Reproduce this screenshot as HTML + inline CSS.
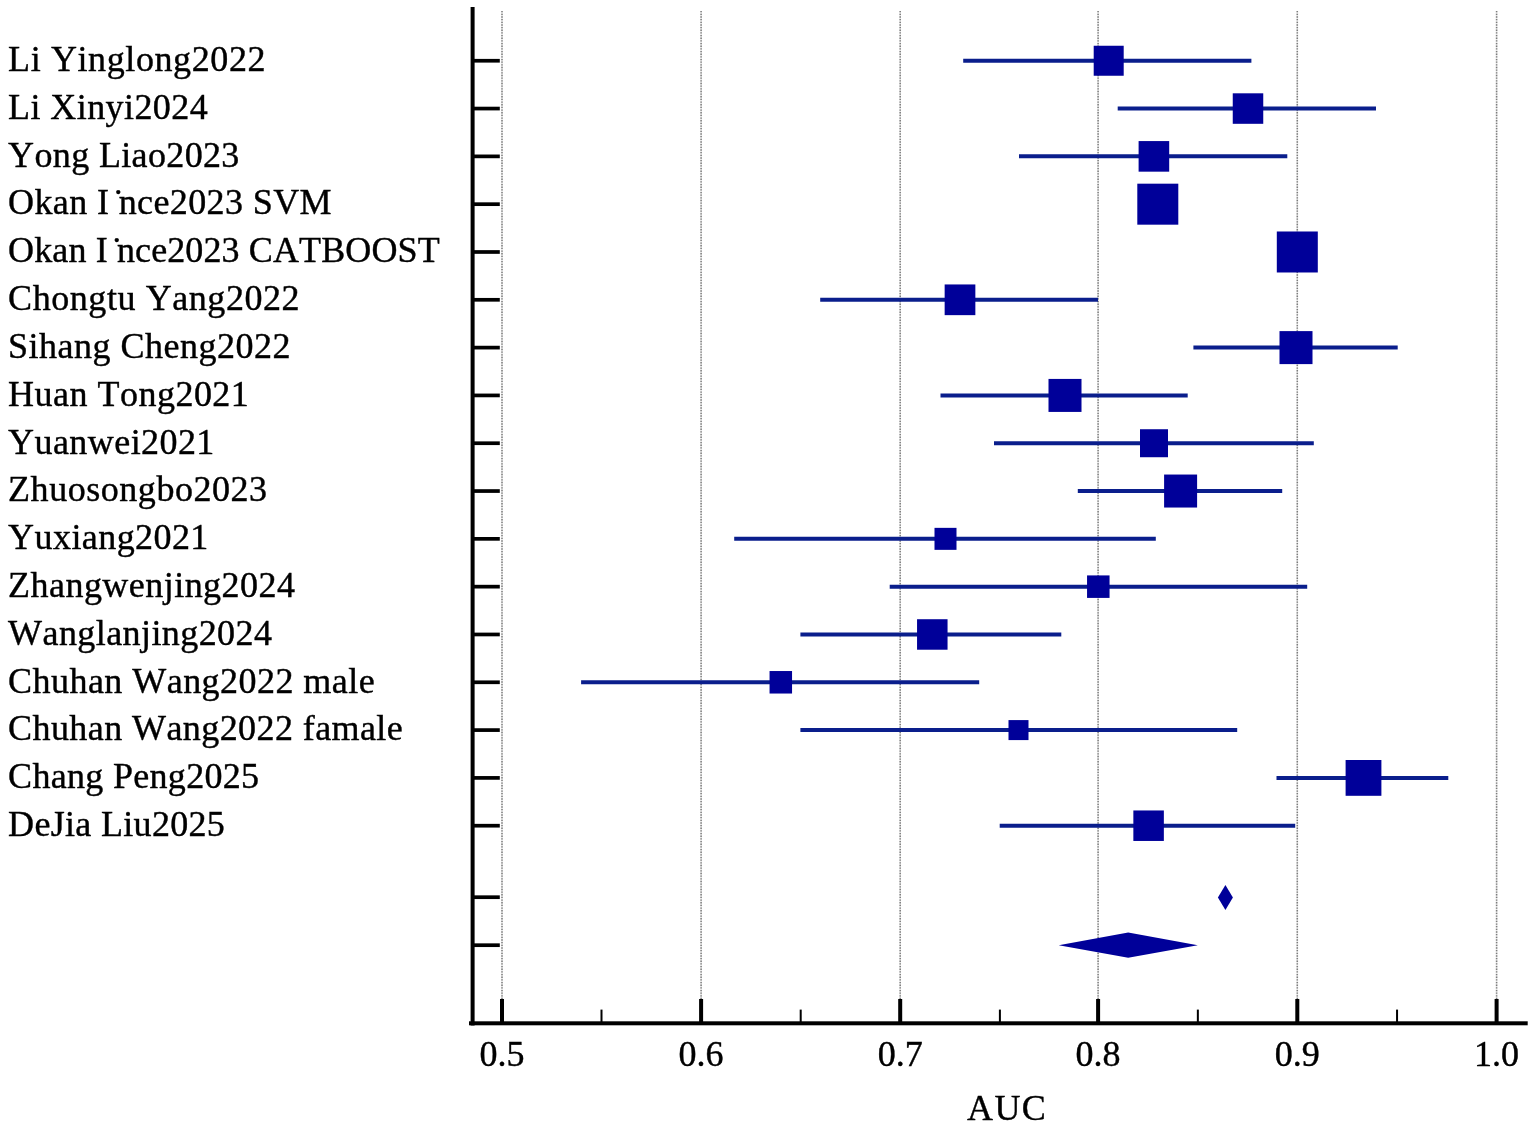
<!DOCTYPE html>
<html><head><meta charset="utf-8"><title>Forest plot AUC</title>
<style>
html,body{margin:0;padding:0;background:#fff;}
body{width:1535px;height:1127px;overflow:hidden;}
svg{display:block;}
text{font-family:"Liberation Serif","Times New Roman",serif;fill:#000;stroke:#000;stroke-width:0.4px;font-kerning:none;font-feature-settings:"kern" 0;}
</style></head><body>
<svg width="1535" height="1127" viewBox="0 0 1535 1127">
<rect x="0" y="0" width="1535" height="1127" fill="#fff"/>

<g stroke="#e6e6e6" stroke-width="1.6">
<line x1="502.00" y1="11" x2="502.00" y2="999"/>
<line x1="701.10" y1="11" x2="701.10" y2="999"/>
<line x1="900.20" y1="11" x2="900.20" y2="999"/>
<line x1="1098.10" y1="11" x2="1098.10" y2="999"/>
<line x1="1297.30" y1="11" x2="1297.30" y2="999"/>
<line x1="1496.60" y1="11" x2="1496.60" y2="999"/>
</g>
<g stroke="#7c7c7c" stroke-width="1.5" stroke-dasharray="1.33 1.33">
<line x1="502.00" y1="11" x2="502.00" y2="999"/>
<line x1="701.10" y1="11" x2="701.10" y2="999"/>
<line x1="900.20" y1="11" x2="900.20" y2="999"/>
<line x1="1098.10" y1="11" x2="1098.10" y2="999"/>
<line x1="1297.30" y1="11" x2="1297.30" y2="999"/>
<line x1="1496.60" y1="11" x2="1496.60" y2="999"/>
</g>
<g stroke="#0a1e8c" stroke-width="4.00">
<line x1="963.2" y1="60.75" x2="1251.4" y2="60.75"/>
<line x1="1117.7" y1="108.56" x2="1376.0" y2="108.56"/>
<line x1="1019.0" y1="156.37" x2="1287.3" y2="156.37"/>
<line x1="820.2" y1="299.80" x2="1098.0" y2="299.80"/>
<line x1="1193.4" y1="347.61" x2="1397.7" y2="347.61"/>
<line x1="940.5" y1="395.42" x2="1187.7" y2="395.42"/>
<line x1="994.0" y1="443.23" x2="1313.8" y2="443.23"/>
<line x1="1077.8" y1="491.04" x2="1282.2" y2="491.04"/>
<line x1="734.2" y1="538.85" x2="1155.8" y2="538.85"/>
<line x1="889.7" y1="586.66" x2="1307.2" y2="586.66"/>
<line x1="800.4" y1="634.47" x2="1061.3" y2="634.47"/>
<line x1="581.1" y1="682.28" x2="979.2" y2="682.28"/>
<line x1="800.4" y1="730.09" x2="1237.2" y2="730.09"/>
<line x1="1276.5" y1="777.90" x2="1448.3" y2="777.90"/>
<line x1="999.7" y1="825.71" x2="1295.2" y2="825.71"/>
</g>
<g fill="#000099">
<rect x="1093.70" y="45.75" width="30.00" height="30.00"/>
<rect x="1232.75" y="93.31" width="30.50" height="30.50"/>
<rect x="1138.60" y="141.07" width="30.60" height="30.60"/>
<rect x="1137.30" y="183.68" width="41.00" height="41.00"/>
<rect x="1276.80" y="231.49" width="41.00" height="41.00"/>
<rect x="944.65" y="284.45" width="30.70" height="30.70"/>
<rect x="1279.50" y="331.11" width="33.00" height="33.00"/>
<rect x="1048.50" y="378.92" width="33.00" height="33.00"/>
<rect x="1140.00" y="429.23" width="28.00" height="28.00"/>
<rect x="1164.10" y="474.54" width="33.00" height="33.00"/>
<rect x="934.50" y="527.85" width="22.00" height="22.00"/>
<rect x="1087.05" y="575.41" width="22.50" height="22.50"/>
<rect x="917.05" y="619.22" width="30.50" height="30.50"/>
<rect x="769.55" y="671.03" width="22.50" height="22.50"/>
<rect x="1008.50" y="720.09" width="20.00" height="20.00"/>
<rect x="1345.60" y="760.00" width="35.80" height="35.80"/>
<rect x="1133.35" y="810.46" width="30.50" height="30.50"/>
<polygon points="1217.9,897.5 1225.4,885 1232.9,897.5 1225.4,910"/>
<polygon points="1058.7,945.2 1128.2,932.6 1197.8,945.2 1128.2,957.8"/>
</g>
<g fill="#000">
<rect x="470.6" y="7" width="4" height="1018.5"/>
<rect x="469" y="1021.3" width="1058.7" height="4"/>
<rect x="500.00" y="999" width="4" height="23"/>
<rect x="699.10" y="999" width="4" height="23"/>
<rect x="898.20" y="999" width="4" height="23"/>
<rect x="1096.10" y="999" width="4" height="23"/>
<rect x="1295.30" y="999" width="4" height="23"/>
<rect x="1494.60" y="999" width="4" height="23"/>
<rect x="600.50" y="1009.6" width="2" height="12.4"/>
<rect x="799.70" y="1009.6" width="2" height="12.4"/>
<rect x="998.90" y="1009.6" width="2" height="12.4"/>
<rect x="1196.85" y="1009.6" width="2" height="12.4"/>
<rect x="1396.05" y="1009.6" width="2" height="12.4"/>
<rect x="474" y="58.90" width="25.8" height="3.7"/>
<rect x="474" y="106.71" width="25.8" height="3.7"/>
<rect x="474" y="154.52" width="25.8" height="3.7"/>
<rect x="474" y="202.33" width="25.8" height="3.7"/>
<rect x="474" y="250.14" width="25.8" height="3.7"/>
<rect x="474" y="297.95" width="25.8" height="3.7"/>
<rect x="474" y="345.76" width="25.8" height="3.7"/>
<rect x="474" y="393.57" width="25.8" height="3.7"/>
<rect x="474" y="441.38" width="25.8" height="3.7"/>
<rect x="474" y="489.19" width="25.8" height="3.7"/>
<rect x="474" y="537.00" width="25.8" height="3.7"/>
<rect x="474" y="584.81" width="25.8" height="3.7"/>
<rect x="474" y="632.62" width="25.8" height="3.7"/>
<rect x="474" y="680.43" width="25.8" height="3.7"/>
<rect x="474" y="728.24" width="25.8" height="3.7"/>
<rect x="474" y="776.05" width="25.8" height="3.7"/>
<rect x="474" y="823.86" width="25.8" height="3.7"/>
<rect x="474" y="895.35" width="25.8" height="3.7"/>
<rect x="474" y="943.35" width="25.8" height="3.7"/>
</g>
<g font-size="36">
<text x="8.1" y="71.05" letter-spacing="0.600">Li Yinglong2022</text>
<text x="8.1" y="118.86" letter-spacing="0.418">Li Xinyi2024</text>
<text x="8.1" y="166.67" letter-spacing="0.358">Yong Liao2023</text>
<text x="8.1" y="214.48" letter-spacing="0.382">Okan I &#x307;nce2023 SVM</text>
<text x="8.1" y="262.29" letter-spacing="0.123">Okan I &#x307;nce2023 CATBOOST</text>
<text x="8.1" y="310.10" letter-spacing="0.567">Chongtu Yang2022</text>
<text x="8.1" y="357.91" letter-spacing="0.500">Sihang Cheng2022</text>
<text x="8.1" y="405.72" letter-spacing="0.483">Huan Tong2021</text>
<text x="8.1" y="453.53" letter-spacing="0.430">Yuanwei2021</text>
<text x="8.1" y="501.34" letter-spacing="0.538">Zhuosongbo2023</text>
<text x="8.1" y="549.15" letter-spacing="0.430">Yuxiang2021</text>
<text x="8.1" y="596.96" letter-spacing="0.460">Zhangwenjing2024</text>
<text x="8.1" y="644.77" letter-spacing="0.421">Wanglanjing2024</text>
<text x="8.1" y="692.58" letter-spacing="0.458">Chuhan Wang2022 male</text>
<text x="8.1" y="740.39" letter-spacing="0.419">Chuhan Wang2022 famale</text>
<text x="8.1" y="788.20" letter-spacing="0.308">Chang Peng2025</text>
<text x="8.1" y="836.01" letter-spacing="0.317">DeJia Liu2025</text>
</g>
<g font-size="36" text-anchor="middle">
<text x="502.00" y="1066.2">0.5</text>
<text x="701.10" y="1066.2">0.6</text>
<text x="900.20" y="1066.2">0.7</text>
<text x="1098.10" y="1066.2">0.8</text>
<text x="1297.30" y="1066.2">0.9</text>
<text x="1496.60" y="1066.2">1.0</text>
</g>
<text x="967.0" y="1119.6" font-size="36" letter-spacing="1.4">AUC</text>
</svg>
</body></html>
